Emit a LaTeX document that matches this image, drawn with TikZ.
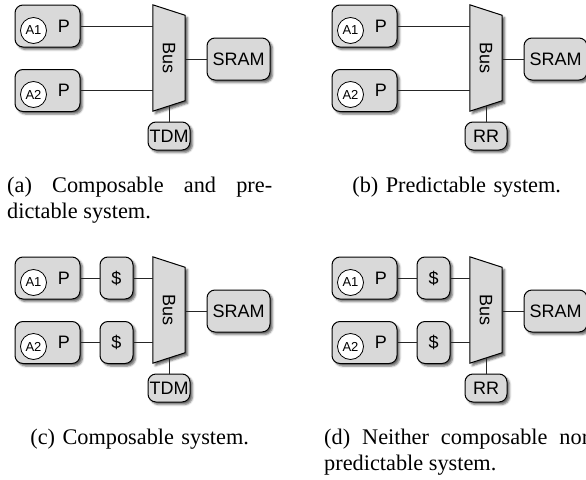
\documentclass[tikz,border=0pt]{standalone}
\usepackage{fontspec}
\setmainfont{Liberation Serif}
\setsansfont{Liberation Sans}
\usepackage{tikz}
\usetikzlibrary{positioning, shapes, shadows, shadows.blur}
\tikzset{
    block/.style = {rectangle, draw, fill=black!15, rounded corners=8pt, line width=1pt,
                        blur shadow={shadow xshift=2.5pt, shadow yshift=-2.5pt, shadow blur radius=2pt, shadow opacity=60},
                        font=\sffamily\fontsize{18}{20}\selectfont, inner sep=0pt},
    proc/.style = {block, minimum width=65pt, minimum height=42pt, text width=45pt, align=right, inner xsep=10pt},
    app/.style = {circle, draw, fill=white, line width=0.8pt, minimum size=26pt, inner sep=0pt,
                        font=\sffamily\fontsize{13}{14}\selectfont},
    cache/.style = {block, minimum width=33pt, minimum height=42pt},
    mem/.style = {block, minimum width=63pt, minimum height=42pt},
    arbiter/.style = {block, minimum width=42pt, minimum height=28pt},
    bus/.style = {rectangle, minimum width=32pt, minimum height=106pt, inner sep=0pt},
    busbody/.style = {draw, fill=black!15, line width=1pt,
                        blur shadow={shadow xshift=2.5pt, shadow yshift=-2.5pt, shadow blur radius=2pt, shadow opacity=60}},
    buslabel/.style = {rotate=-90, font=\sffamily\fontsize{18}{20}\selectfont},
    link/.style = {draw, line width=0.8pt, black!85},
    caption/.style = {text width=265pt, inner sep=0pt, anchor=base west, font=\fontsize{22.3}{26.5}\selectfont}
}

\begin{document}
\begin{tikzpicture}[x=1pt, y=-1pt]
    \useasboundingbox (0,0) rectangle (586,479);
    % (a) composable and predictable
    \node (p1a) [proc] at (47.5,26) {P};
    \node (app1a) [app] at (33.5,30.5) {A1};
    \node (p2a) [proc] at (47.5,90.5) {P};
    \node (app2a) [app] at (33.5,94.5) {A2};
    \node (busa) [bus] at (169,58) {};
    \draw [busbody] (busa.north west) -- ([yshift=-10.5pt]busa.north east) -- ([yshift=10.5pt]busa.south east) -- (busa.south west) -- cycle;
    \node (buslaba) [buslabel] at (busa) {Bus};
    \node (srama) [mem] at (238.5,59) {SRAM};
    \node (arba) [arbiter] at (169,136) {TDM};
    \node (capa) [caption, align=justify] at (7,192) {(a) Composable and pre-\linebreak dictable system.};
    \draw [link] (p1a) -- (p1a -| busa.west);
    \draw [link] (p2a) -- (p2a -| busa.west);
    \draw [link] (srama) -- (srama -| busa.east);
    \draw [link] (arba) -- ([yshift=5.25pt]busa.south);

    % (b) predictable
    \begin{scope}[shift={(317,0)}]
        \node (p1b) [proc] at (47.5,26) {P};
        \node (app1b) [app] at (33.5,30.5) {A1};
        \node (p2b) [proc] at (47.5,90.5) {P};
        \node (app2b) [app] at (33.5,94.5) {A2};
        \node (busb) [bus] at (169,58) {};
        \draw [busbody] (busb.north west) -- ([yshift=-10.5pt]busb.north east) -- ([yshift=10.5pt]busb.south east) -- (busb.south west) -- cycle;
        \node (buslabb) [buslabel] at (busb) {Bus};
        \node (sramb) [mem] at (238.5,59) {SRAM};
        \node (arbb) [arbiter] at (169,136) {RR};
        \node (capb) [caption, align=center] at (7,192) {(b) Predictable system.};
        \draw [link] (p1b) -- (p1b -| busb.west);
        \draw [link] (p2b) -- (p2b -| busb.west);
        \draw [link] (sramb) -- (sramb -| busb.east);
        \draw [link] (arbb) -- ([yshift=5.25pt]busb.south);
    \end{scope}

    % (c) composable
    \begin{scope}[shift={(0,252)}]
        \node (p1c) [proc] at (47.5,26) {P};
        \node (app1c) [app] at (33.5,30.5) {A1};
        \node (p2c) [proc] at (47.5,90.5) {P};
        \node (app2c) [app] at (33.5,94.5) {A2};
        \node (c1c) [cache] at (116.5,26) {\$};
        \node (c2c) [cache] at (116.5,90.5) {\$};
        \node (busc) [bus] at (169,58) {};
        \draw [busbody] (busc.north west) -- ([yshift=-10.5pt]busc.north east) -- ([yshift=10.5pt]busc.south east) -- (busc.south west) -- cycle;
        \node (buslabc) [buslabel] at (busc) {Bus};
        \node (sramc) [mem] at (238.5,59) {SRAM};
        \node (arbc) [arbiter] at (169,136) {TDM};
        \node (capc) [caption, align=center] at (7,192) {(c) Composable system.};
        \draw [link] (p1c) -- (c1c);
        \draw [link] (p2c) -- (c2c);
        \draw [link] (c1c) -- (c1c -| busc.west);
        \draw [link] (c2c) -- (c2c -| busc.west);
        \draw [link] (sramc) -- (sramc -| busc.east);
        \draw [link] (arbc) -- ([yshift=5.25pt]busc.south);
    \end{scope}

    % (d) neither
    \begin{scope}[shift={(317,252)}]
        \node (p1d) [proc] at (47.5,26) {P};
        \node (app1d) [app] at (33.5,30.5) {A1};
        \node (p2d) [proc] at (47.5,90.5) {P};
        \node (app2d) [app] at (33.5,94.5) {A2};
        \node (c1d) [cache] at (116.5,26) {\$};
        \node (c2d) [cache] at (116.5,90.5) {\$};
        \node (busd) [bus] at (169,58) {};
        \draw [busbody] (busd.north west) -- ([yshift=-10.5pt]busd.north east) -- ([yshift=10.5pt]busd.south east) -- (busd.south west) -- cycle;
        \node (buslabd) [buslabel] at (busd) {Bus};
        \node (sramd) [mem] at (238.5,59) {SRAM};
        \node (arbd) [arbiter] at (169,136) {RR};
        \node (capd) [caption, align=justify] at (7,192) {(d) Neither composable nor\linebreak predictable system.};
        \draw [link] (p1d) -- (c1d);
        \draw [link] (p2d) -- (c2d);
        \draw [link] (c1d) -- (c1d -| busd.west);
        \draw [link] (c2d) -- (c2d -| busd.west);
        \draw [link] (sramd) -- (sramd -| busd.east);
        \draw [link] (arbd) -- ([yshift=5.25pt]busd.south);
    \end{scope}
\end{tikzpicture}
\end{document}
